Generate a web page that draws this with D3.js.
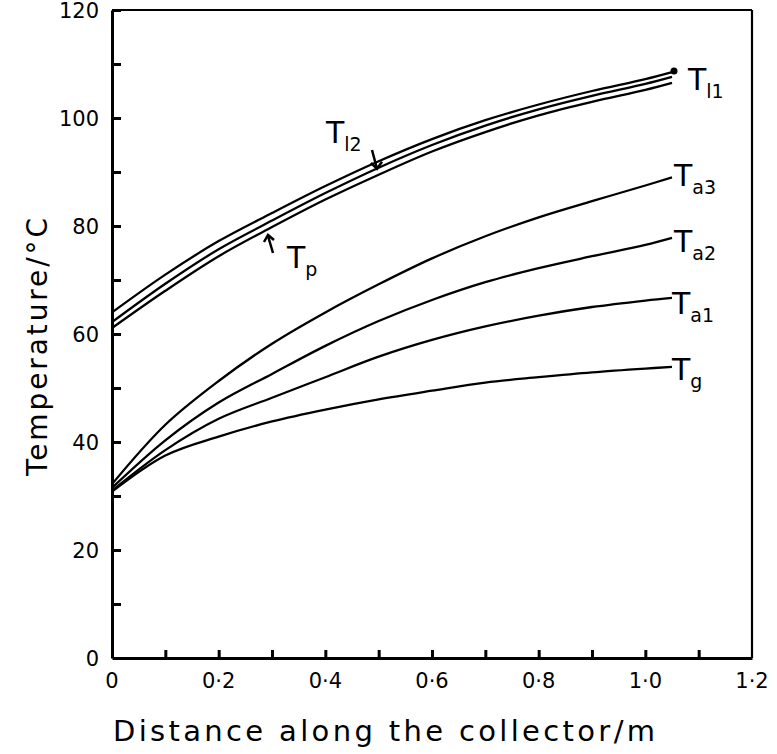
<!DOCTYPE html>
<html><head><meta charset="utf-8">
<script src="https://cdn.jsdelivr.net/npm/d3@7"></script>
<style>
html,body{margin:0;padding:0;background:#fff;}
text{font-family:"DejaVu Sans",sans-serif;fill:#000;}
</style></head>
<body>
<svg id="chart" width="777" height="754"></svg>
<script>
// ---- data ----
const distance = [0, 0.1, 0.2, 0.3, 0.4, 0.5, 0.6, 0.7, 0.8, 0.9, 1.0, 1.05];
const T_l1 = [64.0, 71.0, 77.2, 82.4, 87.4, 92.0, 96.1, 99.6, 102.5, 105.0, 107.2, 108.5];
const T_l2 = [62.2, 69.3, 75.7, 81.0, 86.1, 90.8, 95.0, 98.6, 101.6, 104.1, 106.3, 107.6];
const T_p  = [61.1, 68.0, 74.4, 79.8, 84.9, 89.5, 93.8, 97.4, 100.5, 103.0, 105.2, 106.5];
const T_a3 = [32.2, 43.2, 51.3, 58.2, 64.0, 69.2, 74.0, 78.1, 81.6, 84.6, 87.5, 89.0];
const T_a2 = [31.5, 40.3, 47.3, 52.6, 57.8, 62.4, 66.3, 69.6, 72.2, 74.4, 76.5, 77.8];
const T_a1 = [31.0, 38.5, 44.3, 48.2, 52.0, 55.8, 58.9, 61.4, 63.4, 65.0, 66.2, 66.7];
const T_g  = [30.8, 37.5, 41.0, 43.8, 46.0, 47.9, 49.5, 51.0, 52.0, 52.9, 53.6, 53.9];
const xTickValues = [0, 0.2, 0.4, 0.6, 0.8, 1.0, 1.2];
const xTickLabels = ["0", "0·2", "0·4", "0·6", "0·8", "1·0", "1·2"];
const yTickValues = [0, 20, 40, 60, 80, 100, 120];
const yTickLabels = ["0", "20", "40", "60", "80", "100", "120"];
const xTitle = "Distance along the collector/m";
const yTitle = "Temperature/°C";

const series = [
  {name: "l1", vals: T_l1}, {name: "l2", vals: T_l2}, {name: "p", vals: T_p},
  {name: "a3", vals: T_a3}, {name: "a2", vals: T_a2}, {name: "a1", vals: T_a1}, {name: "g", vals: T_g}
];

const svg = d3.select("#chart");
const x = d3.scaleLinear().domain([0, 1.2]).range([112, 752]);
const y = d3.scaleLinear().domain([0, 120]).range([658, 10]);

// frame top/right
svg.append("line").attr("x1", x(0)).attr("x2", x(1.2)).attr("y1", y(120)).attr("y2", y(120))
  .attr("stroke", "#000").attr("stroke-width", 2);
svg.append("line").attr("x1", x(1.2)).attr("x2", x(1.2)).attr("y1", y(120)).attr("y2", y(0))
  .attr("stroke", "#000").attr("stroke-width", 2.2);

// x axis
const xAxis = d3.axisBottom(x).tickValues(d3.range(0, 12).map(i => i / 10)).tickSizeInner(-8).tickSizeOuter(0).tickFormat("");
const gx = svg.append("g").attr("transform", `translate(0,${y(0)})`).call(xAxis);
gx.select(".domain").attr("stroke-width", 3);
gx.selectAll(".tick line").attr("stroke-width", 3);
gx.selectAll(".tick").filter(d => d === 0).remove();
svg.append("g").selectAll("text").data(xTickValues).join("text")
  .attr("x", d => x(d)).attr("y", 688).attr("text-anchor", "middle")
  .attr("font-size", 21).text((d, i) => xTickLabels[i]);

// y axis
const yAxis = d3.axisLeft(y).tickValues(d3.range(1, 13).map(i => i * 10)).tickSizeInner(-9).tickSizeOuter(0).tickFormat("");
const gy = svg.append("g").attr("transform", `translate(${x(0)},0)`).call(yAxis);
gy.select(".domain").attr("stroke-width", 3);
gy.selectAll(".tick line").attr("stroke-width", 3);
svg.append("g").selectAll("text").data(yTickValues).join("text")
  .attr("x", 99).attr("y", d => y(d) + 8).attr("text-anchor", "end")
  .attr("font-size", 21).text((d, i) => yTickLabels[i]);

// titles
svg.append("text").attr("x", 113).attr("y", 741).attr("font-size", 29)
  .attr("textLength", 542).attr("lengthAdjust", "spacing").text(xTitle);
svg.append("text").attr("transform", "translate(47,476) rotate(-90)").attr("font-size", 28)
  .attr("textLength", 258).attr("lengthAdjust", "spacing").text(yTitle);

// curves
const line = d3.line().x((d, i) => x(distance[i])).y(d => y(d)).curve(d3.curveCatmullRom.alpha(0.5));
svg.append("g").selectAll("path").data(series).join("path")
  .attr("d", d => line(d.vals)).attr("fill", "none").attr("stroke", "#000").attr("stroke-width", 2.3);

// labels
function label(xp, yp, sub) {
  const t = svg.append("text").attr("x", xp).attr("y", yp).attr("font-size", 30);
  t.append("tspan").text("T");
  t.append("tspan").attr("font-size", 19).attr("dy", 8).text(sub);
}
label(688, 90, "l1");
label(674, 186, "a3");
label(674, 252, "a2");
label(672, 314, "a1");
label(672, 380, "g");
label(326, 143, "l2");
label(287, 268, "p");

// pointer marks
const last = distance.length - 1;
svg.append("circle").attr("cx", x(distance[last]) + 2).attr("cy", y(T_l1[last]) - 1).attr("r", 3.5);
svg.append("line").attr("x1", 372).attr("y1", 150).attr("x2", 377).attr("y2", y(90.6))
  .attr("stroke", "#000").attr("stroke-width", 2.5);
svg.append("path").attr("d", `M371,${y(90.6)-6}L377,${y(90.6)}L382,${y(90.6)-7}`).attr("fill", "none").attr("stroke", "#000").attr("stroke-width", 2.5);
svg.append("line").attr("x1", 273).attr("y1", 253).attr("x2", 268).attr("y2", 236)
  .attr("stroke", "#000").attr("stroke-width", 2.5);
svg.append("path").attr("d", "M264,242L268,235L274,240").attr("fill", "none").attr("stroke", "#000").attr("stroke-width", 2.5);
</script>
</body></html>
